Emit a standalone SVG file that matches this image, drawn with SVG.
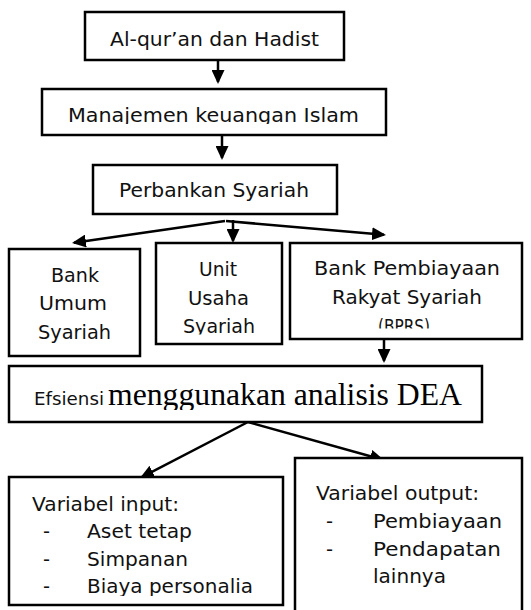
<svg xmlns="http://www.w3.org/2000/svg" width="531" height="610" viewBox="0 0 531 610">
<style>
.box{fill:#fff;stroke:#000;stroke-width:2.5}
.t{font-family:"DejaVu Sans","Liberation Sans",sans-serif;font-size:19.5px;fill:#111}
.tm{font-family:"Liberation Serif","Times New Roman",serif;font-size:32px;fill:#000}
.c{stroke:#000;stroke-width:2.5;fill:none;marker-end:url(#ah)}
</style>
<defs>
<marker id="ah" viewBox="0 0 14 13" refX="12" refY="6.5" markerWidth="14" markerHeight="13" markerUnits="userSpaceOnUse" orient="auto">
<path d="M0,0 L14,6.5 L0,13 Z" fill="#000"/>
</marker>
<clipPath id="c2"><rect x="42" y="89" width="344" height="35"/></clipPath>
<clipPath id="cu"><rect x="156" y="243" width="126" height="91.5"/></clipPath>
<clipPath id="cb"><rect x="290" y="243" width="232" height="85.5"/></clipPath>
<clipPath id="cd"><rect x="9" y="366" width="473" height="44"/></clipPath>
<clipPath id="ci"><rect x="9" y="477" width="274" height="119"/></clipPath>
</defs>

<g id="connectors">
<line class="c" x1="218" y1="60" x2="218" y2="82"/>
<line class="c" x1="222" y1="135" x2="222" y2="158"/>
<line class="c" x1="225" y1="221" x2="73.98" y2="242.72"/>
<line class="c" x1="233" y1="220" x2="233" y2="241"/>
<line class="c" x1="226" y1="221" x2="384" y2="234.83"/>
<line class="c" x1="384" y1="339" x2="384" y2="361"/>
<line class="c" x1="248" y1="422" x2="141.78" y2="477.08"/>
<line class="c" x1="248" y1="422" x2="382.07" y2="459.46"/>
</g>

<g id="alquran">
<rect class="box" x="85" y="12" width="259" height="48"/>
<text class="t" x="110" y="45.5" textLength="209" lengthAdjust="spacingAndGlyphs">Al-qur’an dan Hadist</text>
</g>

<g id="manajemen">
<rect class="box" x="42" y="89" width="344" height="46"/>
<text class="t" x="68" y="121.5" textLength="291" lengthAdjust="spacingAndGlyphs" clip-path="url(#c2)">Manajemen keuangan Islam</text>
</g>

<g id="perbankan">
<rect class="box" x="93" y="165" width="244" height="49"/>
<text class="t" x="119" y="197" textLength="190" lengthAdjust="spacingAndGlyphs">Perbankan Syariah</text>
</g>

<g id="bus">
<rect class="box" x="9" y="249" width="131" height="107"/>
<text class="t" x="51" y="282" textLength="48" lengthAdjust="spacingAndGlyphs">Bank</text>
<text class="t" x="39" y="310" textLength="68" lengthAdjust="spacingAndGlyphs">Umum</text>
<text class="t" x="38" y="339" textLength="73" lengthAdjust="spacingAndGlyphs">Syariah</text>
</g>

<g id="uus">
<rect class="box" x="156" y="243" width="126" height="101"/>
<g clip-path="url(#cu)">
<text class="t" x="199" y="276" textLength="38" lengthAdjust="spacingAndGlyphs">Unit</text>
<text class="t" x="188" y="305" textLength="61" lengthAdjust="spacingAndGlyphs">Usaha</text>
<text class="t" x="183" y="333" textLength="72" lengthAdjust="spacingAndGlyphs">Syariah</text>
</g>
</g>

<g id="bprs">
<rect class="box" x="290" y="243" width="232" height="96"/>
<g clip-path="url(#cb)">
<text class="t" x="314" y="275" textLength="186" lengthAdjust="spacingAndGlyphs">Bank Pembiayaan</text>
<text class="t" x="332" y="304" textLength="150" lengthAdjust="spacingAndGlyphs">Rakyat Syariah</text>
<text class="t" x="378" y="333" textLength="52" lengthAdjust="spacingAndGlyphs">(BPRS)</text>
</g>
</g>

<g id="dea">
<rect class="box" x="9" y="366" width="473" height="56"/>
<g clip-path="url(#cd)">
<text class="t" x="34" y="405" style="font-size:18px" textLength="70" lengthAdjust="spacingAndGlyphs">Efsiensi</text>
<text class="tm" x="108" y="405" textLength="354" lengthAdjust="spacingAndGlyphs">menggunakan analisis DEA</text>
</g>
</g>

<g id="input">
<rect class="box" x="9" y="477" width="274" height="128"/>
<g clip-path="url(#ci)">
<text class="t" x="32" y="511" textLength="147" lengthAdjust="spacingAndGlyphs">Variabel input:</text>
<text class="t" x="43" y="538">-</text>
<text class="t" x="87" y="538" textLength="105" lengthAdjust="spacingAndGlyphs">Aset tetap</text>
<text class="t" x="43" y="566">-</text>
<text class="t" x="87" y="566" textLength="101" lengthAdjust="spacingAndGlyphs">Simpanan</text>
<text class="t" x="43" y="593">-</text>
<text class="t" x="87" y="593" textLength="166" lengthAdjust="spacingAndGlyphs">Biaya personalia</text>
</g>
</g>

<g id="output">
<rect class="box" x="295" y="458" width="227" height="165"/>
<text class="t" x="316" y="500" textLength="163" lengthAdjust="spacingAndGlyphs">Variabel output:</text>
<text class="t" x="326" y="528">-</text>
<text class="t" x="373" y="528" textLength="129" lengthAdjust="spacingAndGlyphs">Pembiayaan</text>
<text class="t" x="326" y="556">-</text>
<text class="t" x="373" y="556" textLength="128" lengthAdjust="spacingAndGlyphs">Pendapatan</text>
<text class="t" x="373" y="583" textLength="73" lengthAdjust="spacingAndGlyphs">lainnya</text>
</g>
</svg>
